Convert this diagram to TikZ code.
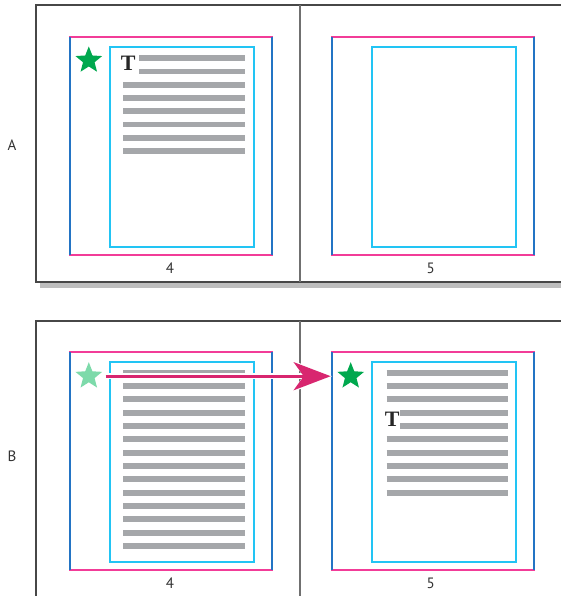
\documentclass[tikz,border=0pt]{standalone}
\usepackage{fontspec}
\newfontfamily\labfont{PT Sans}
\newfontfamily\tfont{Liberation Serif}
\usetikzlibrary{shapes.geometric,arrows.meta}
\definecolor{framegray}{HTML}{474747}
\definecolor{divgray}{HTML}{707070}
\definecolor{shadowgray}{HTML}{BEBEBE}
\definecolor{marginpink}{HTML}{F23C98}
\definecolor{colblue}{HTML}{2374C4}
\definecolor{framecyan}{HTML}{22C4F4}
\definecolor{textgray}{HTML}{A5A7AA}
\definecolor{stargreen}{HTML}{00A84E}
\definecolor{starlight}{HTML}{7DDAAA}
\definecolor{arrowpink}{HTML}{D8266F}
\definecolor{labgray}{HTML}{333333}
\tikzset{
  spreadline/.style={draw=framegray, line width=1.8pt},
  divline/.style={draw=divgray, line width=2.2pt},
  pinkline/.style={draw=marginpink, line width=2pt},
  blueline/.style={draw=colblue, line width=2.2pt},
  cyanbox/.style={draw=framecyan, line width=2.2pt},
  txtline/.style={draw=textgray, line width=5.8pt},
  starshape/.style={star, star points=5, star point ratio=2.3, minimum size=28pt, inner sep=0pt, draw=none},
  lab/.style={font=\labfont\fontsize{15}{15}\selectfont, text=labgray, inner sep=0pt},
  bigT/.style={font=\tfont\fontsize{22}{22}\selectfont\bfseries, text=black!85, inner sep=0pt},
}
\begin{document}
\begin{tikzpicture}[x=1pt,y=-1pt]
\useasboundingbox (0,0) rectangle (561,596);
\clip (0,0) rectangle (561,596);
% ---------- spread A ----------
\fill[shadowgray] (40,282.6) rectangle (561,288.2);
\draw[spreadline] (600,5) -- (36,5) -- (36,281.7) -- (600,281.7);
\draw[divline] (300,5) -- (300,281.7);
% ---------- spread B ----------
\draw[spreadline] (600,320.7) -- (36,320.7) -- (36,600);
\draw[divline] (300,320.7) -- (300,600);
% ---------- page frames ----------
\foreach \dx/\dy in {0/0, 262/0, 0/315.3, 262/315.3}{
  \begin{scope}[shift={(\dx,\dy)}]
    \draw[pinkline] (69,36.7) -- (273,36.7);
    \draw[pinkline] (69,255) -- (273,255);
    \draw[blueline] (70.3,36.7) -- (70.3,255);
    \draw[blueline] (271.7,36.7) -- (271.7,255);
    \draw[cyanbox] (110,46.7) rectangle (254.3,246.7);
  \end{scope}
}
% ---------- text lines A page 4 ----------
\foreach \i in {0,1}{ \draw[txtline] (139,58.3+13.25*\i) -- (245,58.3+13.25*\i); }
\foreach \i in {2,...,7}{ \draw[txtline] (123.3,58.3+13.25*\i) -- (245,58.3+13.25*\i); }
\node[bigT] (tA) at (128.3,63.6) {T};
% ---------- text lines B page 4 ----------
\foreach \i in {0,...,13}{ \draw[txtline] (123.3,372.7+13.33*\i) -- (245,372.7+13.33*\i); }
% ---------- text lines B page 5 ----------
\foreach \i in {0,1,2,5,6,7,8,9}{ \draw[txtline] (386.7,372.7+13.33*\i) -- (508.3,372.7+13.33*\i); }
\foreach \i in {3,4}{ \draw[txtline] (400,372.7+13.33*\i) -- (508.3,372.7+13.33*\i); }
\node[bigT] (tB) at (392.3,418.8) {T};
% ---------- stars ----------
\node[starshape, fill=stargreen] (sA) at (88.8,60.4) {};
\node[starshape, fill=starlight] (sB1) at (88.8,376.2) {};
\node[starshape, fill=stargreen] (sB2) at (350.7,376.2) {};
% ---------- arrow ----------
\draw[white, line width=5.5pt, shorten <=15.9pt, shorten >=18.6pt,
      -{Stealth[length=39pt,width=31pt,inset=10pt]}] (sB1.center) -- (sB2.center);
\draw[arrowpink, line width=3pt, shorten <=16.9pt, shorten >=20pt,
      -{Stealth[length=37pt,width=28pt,inset=10pt]}] (sB1.center) -- (sB2.center);
% ---------- labels ----------
\node[lab] (labA) at (12,145) {A};
\node[lab] (labB) at (12,456.7) {B};
\node[lab] (nA4) at (170,268) {4};
\node[lab] (nA5) at (430.7,268) {5};
\node[lab] (nB4) at (170,583.3) {4};
\node[lab] (nB5) at (430.7,583.3) {5};
\end{tikzpicture}
\end{document}
